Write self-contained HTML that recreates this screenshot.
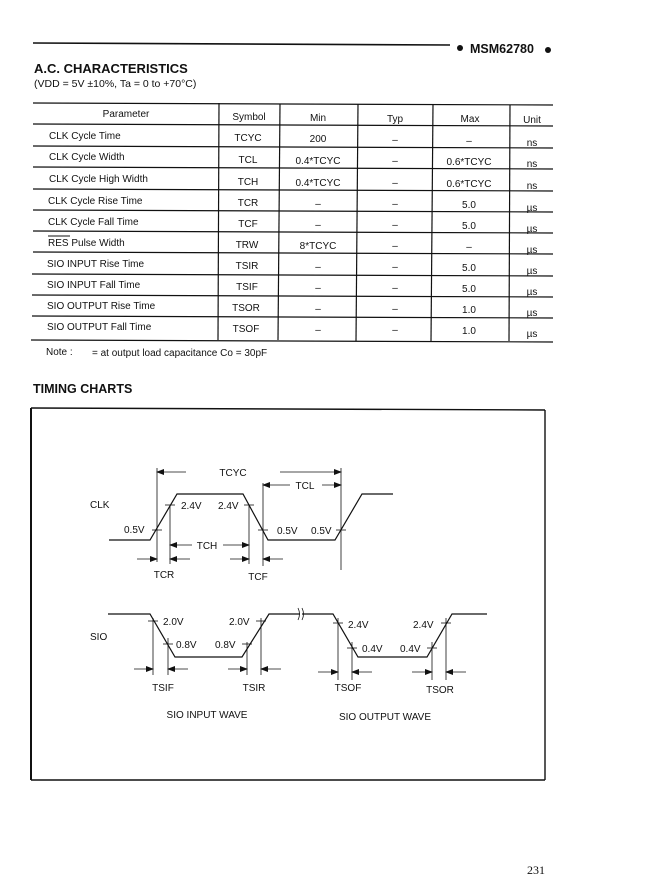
<!DOCTYPE html>
<html><head><meta charset="utf-8"><style>
html,body{margin:0;padding:0;background:#fff}
svg{display:block}
text{font-family:"Liberation Sans",sans-serif;fill:#111}
</style></head><body>
<svg width="661" height="885" viewBox="0 0 661 885" xmlns="http://www.w3.org/2000/svg">
<defs>
<marker id="ar" markerWidth="8" markerHeight="6" refX="7" refY="3" orient="auto" markerUnits="userSpaceOnUse"><path d="M0,0 L8,3 L0,6 z" fill="#111"/></marker>
</defs>
<g stroke="#111" fill="none">
<line x1="33" y1="43" x2="450" y2="45" stroke-width="1.6"/>
</g>
<circle cx="460" cy="48" r="3" fill="#111"/>
<text x="470" y="53" font-size="12.5" font-weight="bold">MSM62780</text>
<circle cx="548" cy="50" r="3" fill="#111"/>
<text x="34" y="73" font-size="13" font-weight="bold">A.C. CHARACTERISTICS</text>
<text x="34" y="87" font-size="10.5">(VDD = 5V ±10%, Ta = 0 to +70°C)</text>

<g stroke="#111" stroke-width="1.2">
<line x1="33" y1="103" x2="553" y2="105"/>
<line x1="33" y1="124" x2="553" y2="126"/>
<line x1="33" y1="146" x2="553" y2="148"/>
<line x1="33" y1="167" x2="553" y2="169"/>
<line x1="33" y1="189" x2="553" y2="191"/>
<line x1="33" y1="210" x2="553" y2="212"/>
<line x1="33" y1="231" x2="553" y2="233"/>
<line x1="33" y1="252" x2="553" y2="254"/>
<line x1="32" y1="274" x2="553" y2="276"/>
<line x1="32" y1="295" x2="553" y2="297"/>
<line x1="32" y1="316" x2="553" y2="318"/>
<line x1="31" y1="340" x2="553" y2="342"/>
<line x1="219" y1="103" x2="218" y2="340"/>
<line x1="280" y1="104" x2="278" y2="340"/>
<line x1="358" y1="104" x2="356" y2="341"/>
<line x1="433" y1="104" x2="431" y2="341"/>
<line x1="510" y1="105" x2="509" y2="341"/>
</g>
<g font-size="10">
<text x="126" y="117" text-anchor="middle">Parameter</text>
<text x="249" y="120" text-anchor="middle">Symbol</text>
<text x="318" y="121" text-anchor="middle">Min</text>
<text x="395" y="122" text-anchor="middle">Typ</text>
<text x="470" y="122" text-anchor="middle">Max</text>
<text x="532" y="123" text-anchor="middle">Unit</text>
</g>
<g font-size="10">
<text x="49" y="139">CLK Cycle Time</text>
<text x="49" y="160">CLK Cycle Width</text>
<text x="49" y="182">CLK Cycle High Width</text>
<text x="48" y="204">CLK Cycle Rise Time</text>
<text x="48" y="225">CLK Cycle Fall Time</text>
<text x="48" y="246">RES Pulse Width</text>
<line x1="48" y1="236" x2="70" y2="236" stroke="#111" stroke-width="0.9"/>
<text x="47" y="267">SIO INPUT Rise Time</text>
<text x="47" y="288">SIO INPUT Fall Time</text>
<text x="47" y="309">SIO OUTPUT Rise Time</text>
<text x="47" y="330">SIO OUTPUT Fall Time</text>
</g>
<g font-size="10" text-anchor="middle">
<text x="248" y="141">TCYC</text><text x="318" y="142">200</text><text x="395" y="143">–</text><text x="469" y="144">–</text><text x="532" y="146">ns</text>
<text x="248" y="163">TCL</text><text x="318" y="164">0.4*TCYC</text><text x="395" y="164">–</text><text x="469" y="165">0.6*TCYC</text><text x="532" y="167">ns</text>
<text x="248" y="185">TCH</text><text x="318" y="186">0.4*TCYC</text><text x="395" y="186">–</text><text x="469" y="187">0.6*TCYC</text><text x="532" y="189">ns</text>
<text x="248" y="206">TCR</text><text x="318" y="207">–</text><text x="395" y="207">–</text><text x="469" y="208">5.0</text><text x="532" y="211">µs</text>
<text x="248" y="227">TCF</text><text x="318" y="228">–</text><text x="395" y="228">–</text><text x="469" y="229">5.0</text><text x="532" y="232">µs</text>
<text x="247" y="248">TRW</text><text x="318" y="249">8*TCYC</text><text x="395" y="249">–</text><text x="469" y="250">–</text><text x="532" y="253">µs</text>
<text x="247" y="269">TSIR</text><text x="318" y="270">–</text><text x="395" y="270">–</text><text x="469" y="271">5.0</text><text x="532" y="274">µs</text>
<text x="247" y="290">TSIF</text><text x="318" y="291">–</text><text x="395" y="291">–</text><text x="469" y="292">5.0</text><text x="532" y="295">µs</text>
<text x="246" y="311">TSOR</text><text x="318" y="312">–</text><text x="395" y="312">–</text><text x="469" y="313">1.0</text><text x="532" y="316">µs</text>
<text x="246" y="332">TSOF</text><text x="318" y="333">–</text><text x="395" y="333">–</text><text x="469" y="334">1.0</text><text x="532" y="337">µs</text>
</g>
<text x="46" y="355" font-size="10">Note :</text>
<text x="92" y="356" font-size="10">= at output load capacitance Co = 30pF</text>
<text x="33" y="393" font-size="12.5" font-weight="bold">TIMING CHARTS</text>

<g stroke="#111" fill="none">
<line x1="31" y1="408" x2="545" y2="410" stroke-width="1.4"/>
<line x1="31" y1="408" x2="31" y2="780" stroke-width="2"/>
<line x1="545" y1="410" x2="545" y2="780" stroke-width="1.4"/>
<line x1="31" y1="780" x2="545" y2="780" stroke-width="1.4"/>
</g>

<!-- CLK -->
<g stroke="#111" fill="none" stroke-width="1.2">
<polyline points="109,540 150,540 177,494 243,494 268,540 335,540 362,494 393,494"/>
<g stroke-width="0.8">
<line x1="157" y1="468" x2="157" y2="562"/>
<line x1="170" y1="505" x2="170" y2="564"/>
<line x1="249" y1="505" x2="249" y2="564"/>
<line x1="263" y1="483" x2="263" y2="566"/>
<line x1="341" y1="468" x2="341" y2="570"/>
<line x1="186" y1="472" x2="157" y2="472" marker-end="url(#ar)"/>
<line x1="280" y1="472" x2="341" y2="472" marker-end="url(#ar)"/>
<line x1="290" y1="485" x2="263" y2="485" marker-end="url(#ar)"/>
<line x1="322" y1="485" x2="341" y2="485" marker-end="url(#ar)"/>
<line x1="192" y1="545" x2="170" y2="545" marker-end="url(#ar)"/>
<line x1="223" y1="545" x2="249" y2="545" marker-end="url(#ar)"/>
<line x1="137" y1="559" x2="157" y2="559" marker-end="url(#ar)"/>
<line x1="190" y1="559" x2="170" y2="559" marker-end="url(#ar)"/>
<line x1="230" y1="559" x2="249" y2="559" marker-end="url(#ar)"/>
<line x1="283" y1="559" x2="263" y2="559" marker-end="url(#ar)"/>
<line x1="152" y1="530" x2="162" y2="530"/>
<line x1="165" y1="505" x2="175" y2="505"/>
<line x1="244" y1="505" x2="254" y2="505"/>
<line x1="258" y1="530" x2="268" y2="530"/>
<line x1="336" y1="530" x2="346" y2="530"/>
</g>
</g>
<g font-size="10">
<text x="90" y="508">CLK</text>
<text x="233" y="476" text-anchor="middle" style="paint-order:stroke" stroke="#fff" stroke-width="4">TCYC</text>
<text x="305" y="489" text-anchor="middle" style="paint-order:stroke" stroke="#fff" stroke-width="4">TCL</text>
<text x="207" y="549" text-anchor="middle" style="paint-order:stroke" stroke="#fff" stroke-width="4">TCH</text>
<text x="124" y="533">0.5V</text>
<text x="181" y="509">2.4V</text>
<text x="218" y="509">2.4V</text>
<text x="277" y="534">0.5V</text>
<text x="311" y="534">0.5V</text>
<text x="164" y="578" text-anchor="middle">TCR</text>
<text x="258" y="580" text-anchor="middle">TCF</text>
</g>

<!-- SIO -->
<g stroke="#111" fill="none" stroke-width="1.2">
<polyline points="108,614 150,614 175,657 242,657 269,614 300,614"/>
<polyline points="302,614 333,614 358,657 427,657 452,614 487,614"/>
<path d="M298,608 q3,6 0,12 M302,608 q3,6 0,12" stroke-width="0.8"/>
<g stroke-width="0.8">
<line x1="153" y1="618" x2="153" y2="675"/>
<line x1="168" y1="638" x2="168" y2="675"/>
<line x1="247" y1="642" x2="247" y2="675"/>
<line x1="261" y1="618" x2="261" y2="675"/>
<line x1="338" y1="618" x2="338" y2="680"/>
<line x1="352" y1="642" x2="352" y2="680"/>
<line x1="432" y1="642" x2="432" y2="680"/>
<line x1="446" y1="618" x2="446" y2="680"/>
<line x1="134" y1="669" x2="153" y2="669" marker-end="url(#ar)"/>
<line x1="188" y1="669" x2="168" y2="669" marker-end="url(#ar)"/>
<line x1="228" y1="669" x2="247" y2="669" marker-end="url(#ar)"/>
<line x1="281" y1="669" x2="261" y2="669" marker-end="url(#ar)"/>
<line x1="318" y1="672" x2="338" y2="672" marker-end="url(#ar)"/>
<line x1="372" y1="672" x2="352" y2="672" marker-end="url(#ar)"/>
<line x1="412" y1="672" x2="432" y2="672" marker-end="url(#ar)"/>
<line x1="466" y1="672" x2="446" y2="672" marker-end="url(#ar)"/>
<line x1="148" y1="621" x2="158" y2="621"/>
<line x1="163" y1="644" x2="173" y2="644"/>
<line x1="242" y1="644" x2="252" y2="644"/>
<line x1="256" y1="621" x2="266" y2="621"/>
<line x1="333" y1="623" x2="343" y2="623"/>
<line x1="347" y1="648" x2="357" y2="648"/>
<line x1="427" y1="648" x2="437" y2="648"/>
<line x1="441" y1="623" x2="451" y2="623"/>
</g>
</g>
<g font-size="10">
<text x="90" y="640">SIO</text>
<text x="163" y="625">2.0V</text>
<text x="176" y="648">0.8V</text>
<text x="229" y="625">2.0V</text>
<text x="215" y="648">0.8V</text>
<text x="348" y="628">2.4V</text>
<text x="362" y="652">0.4V</text>
<text x="413" y="628">2.4V</text>
<text x="400" y="652">0.4V</text>
<text x="163" y="691" text-anchor="middle">TSIF</text>
<text x="254" y="691" text-anchor="middle">TSIR</text>
<text x="348" y="691" text-anchor="middle">TSOF</text>
<text x="440" y="693" text-anchor="middle">TSOR</text>
<text x="207" y="718" text-anchor="middle">SIO INPUT WAVE</text>
<text x="385" y="720" text-anchor="middle">SIO OUTPUT WAVE</text>
</g>
<text x="527" y="874" font-size="12" style="font-family:'Liberation Serif',serif">231</text>
</svg>
</body></html>
